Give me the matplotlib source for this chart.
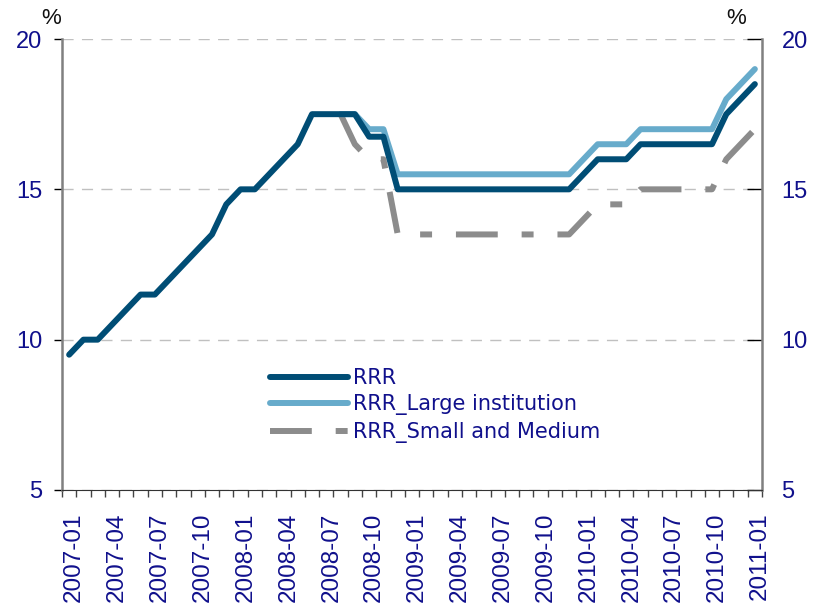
import matplotlib
matplotlib.use("Agg")
import matplotlib.pyplot as plt
import matplotlib.transforms as mtransforms
import numpy as np

months = [f"{y}-{m:02d}" for y in range(2007, 2011) for m in range(1, 13)] + ["2011-01"]

rrr = [9.5, 10.0, 10.0, 10.5, 11.0, 11.5, 11.5, 12.0, 12.5, 13.0, 13.5, 14.5,
       15.0, 15.0, 15.5, 16.0, 16.5, 17.5, 17.5, 17.5, 17.5, 16.75, 16.75, 15.0,
       15.0, 15.0, 15.0, 15.0, 15.0, 15.0, 15.0, 15.0, 15.0, 15.0, 15.0, 15.0,
       15.5, 16.0, 16.0, 16.0, 16.5, 16.5, 16.5, 16.5, 16.5, 16.5, 17.5, 18.0,
       18.5]
rrr_large = [None] * 19 + [17.5, 17.5, 17.0, 17.0, 15.5,
             15.5, 15.5, 15.5, 15.5, 15.5, 15.5, 15.5, 15.5, 15.5, 15.5, 15.5, 15.5,
             16.0, 16.5, 16.5, 16.5, 17.0, 17.0, 17.0, 17.0, 17.0, 17.0, 18.0, 18.5,
             19.0]
rrr_small = [None] * 19 + [17.5, 16.5, 16.0, 16.0, 13.5,
             13.5, 13.5, 13.5, 13.5, 13.5, 13.5, 13.5, 13.5, 13.5, 13.5, 13.5, 13.5,
             14.0, 14.5, 14.5, 14.5, 15.0, 15.0, 15.0, 15.0, 15.0, 15.0, 16.0, 16.5,
             17.0]

txt = "#10108c"
plt.rcParams['font.family'] = ['Liberation Sans', 'DejaVu Sans']

fig = plt.figure(figsize=(8.13, 6.08), dpi=100)
ax = fig.add_axes([62 / 813, 1 - 490 / 608, 700 / 813, 451 / 608])

x = np.arange(len(months))
large = np.array([np.nan if v is None else v for v in rrr_large])
small = np.array([np.nan if v is None else v for v in rrr_small])

lw = 4.3
ax.plot(x, small, color="#8c8c8c", lw=lw, dashes=(7, 4, 2, 4),
        label="RRR_Small and Medium", zorder=2)
ax.plot(x, large, color="#67abcb", lw=lw, label="RRR_Large institution",
        zorder=3, solid_capstyle="round")
ax.plot(x, rrr, color="#004d75", lw=lw, label="RRR", zorder=4,
        solid_capstyle="round")

ax.set_xlim(-0.5, len(months) - 0.5)
ax.set_ylim(5, 20)
ax.set_yticks([5, 10, 15, 20])
ax.yaxis.grid(True, color="#c0c0c0", ls=(0, (8, 6)), lw=1)
ax.set_axisbelow(True)

ax.set_xticks(x[::3])
ax.set_xticklabels(months[::3], rotation=90, fontsize=17.5, color=txt)
ax.set_xticks(np.arange(len(months) + 1) - 0.5, minor=True)
ax.tick_params(axis="x", which="major", length=0, pad=16)
ax.tick_params(axis="x", which="minor", length=5, color="#444444", width=1)
ax.tick_params(axis="y", which="major", labelsize=17, labelcolor=txt,
               color="black", width=1)
ax.tick_params(axis="y", which="major", left=True, length=6, direction="out",
               pad=8)
ax.tick_params(axis="y", which="major", right=True, labelright=True)
for t in ax.yaxis.get_major_ticks():
    t.tick2line.set_markersize(11)
    t.tick2line.set_marker(0)

# nudge the month labels a little to the right, as in the original
offset = mtransforms.ScaledTranslation(5 / 100, 0, fig.dpi_scale_trans)
for t in ax.xaxis.get_major_ticks():
    t.label1.set_transform(t.label1.get_transform() + offset)

ax.spines["top"].set_visible(False)
for s in ("left", "right"):
    ax.spines[s].set_color("#808080")
    ax.spines[s].set_linewidth(1.8)
ax.spines["bottom"].set_color("#333333")

fig.text(41 / 813, 1 - 24 / 608, "%", fontsize=16, color="#111111")
fig.text(726 / 813, 1 - 24 / 608, "%", fontsize=16, color="#111111")

h, l = ax.get_legend_handles_labels()
order = [2, 1, 0]
ax.legend([h[i] for i in order], [l[i] for i in order], loc="upper left",
          bbox_to_anchor=((270 - 62) / 700, (490 - 368) / 451),
          frameon=False, prop={"family": "DejaVu Sans", "size": 15},
          labelcolor=txt, handlelength=3.75, handletextpad=0.24,
          labelspacing=0.31, borderpad=0, borderaxespad=0)

fig.savefig("out.png", dpi=100)
